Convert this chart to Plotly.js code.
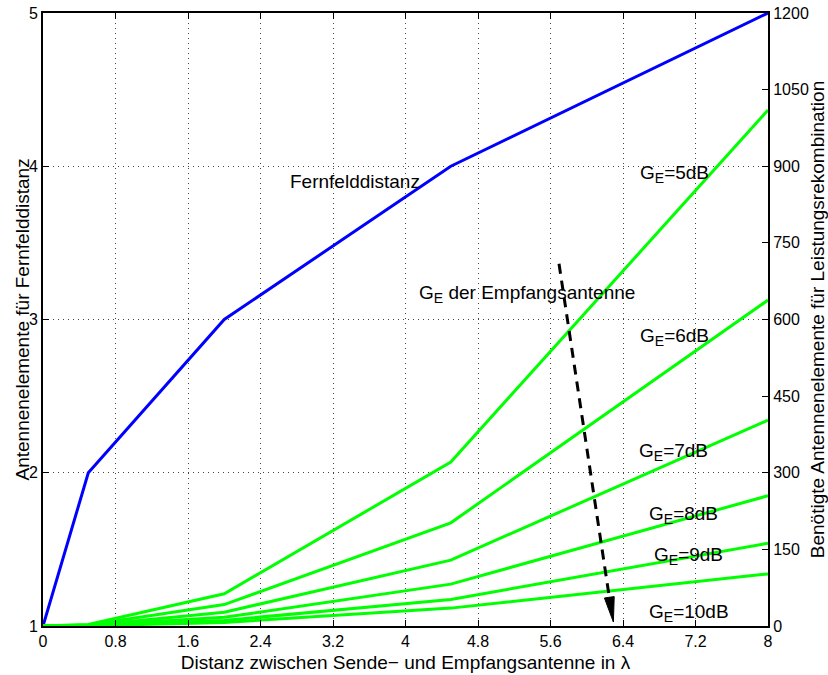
<!DOCTYPE html>
<html>
<head>
<meta charset="utf-8">
<script src="https://cdn.plot.ly/plotly-3.0.1.min.js"></script>
<style>html,body{margin:0;padding:0;background:#fff;}#chart{width:828px;height:675px;}</style>
</head>
<body>
<div id="chart"></div>
<script>
// Distance between transmit and receive antenna (in lambda)
const distance = [0, 0.5, 2, 4.5, 8];
// Antenna elements for far-field distance (left axis)
const fernfeld = [1, 2, 3, 4, 5];
// Required antenna elements for power combining (right axis), per receive gain
const g5dB  = [0, 3, 63, 321, 1010];
const g6dB  = [0, 2, 42, 202, 638];
const g7dB  = [0, 1.2, 27, 129, 403];
const g8dB  = [0, 0.8, 17, 82, 255];
const g9dB  = [0, 0.5, 11, 52, 162];
const g10dB = [0, 0.3, 7, 35, 102];
const gainSeries = [g5dB, g6dB, g7dB, g8dB, g9dB, g10dB];
const SUBE = '<sub><span style="font-size:14px">E</span></sub>';
const gainLabels = ['G'+SUBE+'=5dB','G'+SUBE+'=6dB','G'+SUBE+'=7dB','G'+SUBE+'=8dB','G'+SUBE+'=9dB','G'+SUBE+'=10dB'];
// label anchor positions (x in lambda, y on right axis)
const gainLabelX = [6.57, 6.57, 6.55, 6.66, 6.72, 6.67];
const gainLabelY = [885, 565, 340, 218, 137, 25];
const xTicks = [0, 0.8, 1.6, 2.4, 3.2, 4, 4.8, 5.6, 6.4, 7.2, 8];
const xTickText = ['0','0.8','1.6','2.4','3.2','4','4.8','5.6','6.4','7.2','8'];

const FONT = 'Liberation Sans, Arial, Helvetica, sans-serif';

const traces = [{
  x: distance, y: fernfeld, mode: 'lines', yaxis: 'y',
  line: {color: '#0000ff', width: 3}, hoverinfo: 'skip', showlegend: false
}];
gainSeries.forEach(s => traces.push({
  x: distance, y: s, mode: 'lines', yaxis: 'y2',
  line: {color: '#00ff00', width: 3}, hoverinfo: 'skip', showlegend: false
}));

const annotations = [
  {x: 3.44, y: 3.9, xref: 'x', yref: 'y', text: 'Fernfelddistanz', showarrow: false,
   font: {family: FONT, size: 19, color: '#000'}, xanchor: 'center', yanchor: 'middle'},
  {x: 4.13, y: 650, xref: 'x', yref: 'y2', text: 'G' + SUBE + ' der Empfangsantenne', showarrow: false,
   font: {family: FONT, size: 19, color: '#000'}, xanchor: 'left', yanchor: 'middle'},
  {x: -0.0276, y: 0.5, xref: 'paper', yref: 'paper', text: 'Antennenelemente f\u00fcr Fernfelddistanz',
   textangle: -90, showarrow: false, font: {family: FONT, size: 19, color: '#000'},
   xanchor: 'center', yanchor: 'middle'}
];
gainLabels.forEach((t, i) => annotations.push({
  x: gainLabelX[i], y: gainLabelY[i], xref: 'x', yref: 'y2', text: t, showarrow: false,
  font: {family: FONT, size: 19, color: '#000'}, xanchor: 'left', yanchor: 'middle'
}));

const shapes = [
  {type: 'line', xref: 'x', yref: 'y2', x0: 5.694, y0: 709, x1: 6.249, y1: 56,
   line: {color: '#000', width: 3, dash: '10px,7px'}},
  {type: 'path', xref: 'x', yref: 'y2', path: 'M6.294,7.8 L6.303,57.6 L6.195,54.8 Z',
   fillcolor: '#000', line: {color: '#000', width: 1}}
];

const layout = {
  width: 828, height: 675,
  margin: {l: 43, r: 60, t: 13, b: 49, pad: 0},
  paper_bgcolor: '#fff', plot_bgcolor: '#fff',
  font: {family: FONT, size: 16, color: '#000'},
  showlegend: false,
  xaxis: {
    range: [0, 8], tickvals: xTicks, ticktext: xTickText,
    ticks: 'inside', ticklen: 6, tickcolor: '#000', tickwidth: 1,
    showline: true, linecolor: '#000', linewidth: 2, mirror: 'ticks',
    showgrid: true, gridcolor: '#444', griddash: '1px,4px', gridwidth: 1,
    zeroline: false, tickfont: {family: FONT, size: 16, color: '#000'},
    title: {text: 'Distanz zwischen Sende\u2212 und Empfangsantenne in \u03bb',
            font: {family: FONT, size: 19, color: '#000'}, standoff: 6}
  },
  yaxis: {
    range: [1, 5], tickvals: [1, 2, 3, 4, 5],
    ticks: 'inside', ticklen: 6, tickcolor: '#000', tickwidth: 1,
    showline: true, linecolor: '#000', linewidth: 2,
    showgrid: true, gridcolor: '#444', griddash: '1px,4px', gridwidth: 1,
    zeroline: false, tickfont: {family: FONT, size: 16, color: '#000'}
  },
  yaxis2: {
    range: [0, 1200], tickvals: [0, 150, 300, 450, 600, 750, 900, 1050, 1200],
    overlaying: 'y', side: 'right', anchor: 'x',
    ticks: 'inside', ticklen: 6, tickcolor: '#000', tickwidth: 1,
    showline: true, linecolor: '#000', linewidth: 2,
    showgrid: false, zeroline: false,
    tickfont: {family: FONT, size: 16, color: '#000'},
    title: {text: 'Ben\u00f6tigte Antennenelemente f\u00fcr Leistungsrekombination',
            font: {family: FONT, size: 19, color: '#000'}, standoff: 2}
  },
  annotations: annotations,
  shapes: shapes
};

Plotly.newPlot('chart', traces, layout, {displayModeBar: false, staticPlot: true});
</script>
</body>
</html>
